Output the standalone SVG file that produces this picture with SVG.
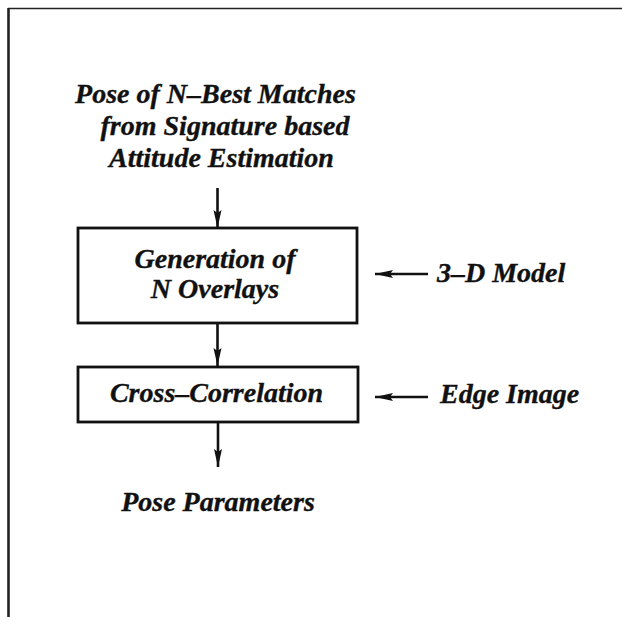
<svg xmlns="http://www.w3.org/2000/svg" width="622" height="617" viewBox="0 0 622 617">
  <style>
    .lbl { font-family: "Liberation Serif", "Times New Roman", serif; font-weight: bold; font-style: italic; font-size: 28px; fill: #111; stroke: #111; stroke-width: 0.35; }
    .box { fill: #fff; stroke: #111; stroke-width: 2.8; }
    .wire { stroke: #111; stroke-width: 2.6; fill: none; }
    .frame { stroke: #222; fill: none; }
  </style>
  <defs>
    <marker id="arrow" markerWidth="18" markerHeight="9" refX="18" refY="4.5" orient="auto" markerUnits="userSpaceOnUse">
      <path d="M0,0.5 L18,4.5 L0,8.5 L3,4.5 Z" fill="#111"/>
    </marker>
  </defs>
  <rect width="622" height="617" fill="#fff"/>

  <!-- page frame: top rule and left rule -->
  <g id="frame">
    <line class="frame" x1="8" y1="8.5" x2="622" y2="8.5" stroke-width="1.6"/>
    <line class="frame" x1="8.5" y1="8" x2="8.5" y2="617" stroke-width="2.6"/>
  </g>

  <!-- connectors -->
  <g id="connectors">
    <line class="wire" x1="217.5" y1="188" x2="217.5" y2="228" marker-end="url(#arrow)"/>
    <line class="wire" x1="217.5" y1="323" x2="217.5" y2="366" marker-end="url(#arrow)"/>
    <line class="wire" x1="218" y1="422" x2="218" y2="467" marker-end="url(#arrow)"/>
    <line class="wire" x1="428" y1="274" x2="375" y2="274" marker-end="url(#arrow)"/>
    <line class="wire" x1="428" y1="397" x2="375" y2="397" marker-end="url(#arrow)"/>
  </g>

  <!-- input: pose hypotheses -->
  <g id="input">
    <text class="lbl" x="215.5" y="103" text-anchor="middle">Pose of N–Best Matches</text>
    <text class="lbl" x="225" y="135" text-anchor="middle">from Signature based</text>
    <text class="lbl" x="221.5" y="167" text-anchor="middle">Attitude Estimation</text>
  </g>

  <!-- overlay generation -->
  <g id="overlays">
    <rect class="box" x="78" y="228" width="279" height="95"/>
    <text class="lbl" x="215" y="268" text-anchor="middle">Generation of</text>
    <text class="lbl" x="215" y="298" text-anchor="middle">N Overlays</text>
  </g>

  <!-- correlation stage -->
  <g id="correlation">
    <rect class="box" x="78" y="367" width="280" height="55"/>
    <text class="lbl" x="216.5" y="402" text-anchor="middle">Cross–Correlation</text>
  </g>

  <!-- side inputs -->
  <g id="model">
    <text class="lbl" x="437" y="282">3–D Model</text>
  </g>
  <g id="edges">
    <text class="lbl" x="440" y="403">Edge Image</text>
  </g>

  <!-- output -->
  <g id="output">
    <text class="lbl" x="218" y="511" text-anchor="middle">Pose Parameters</text>
  </g>
</svg>
